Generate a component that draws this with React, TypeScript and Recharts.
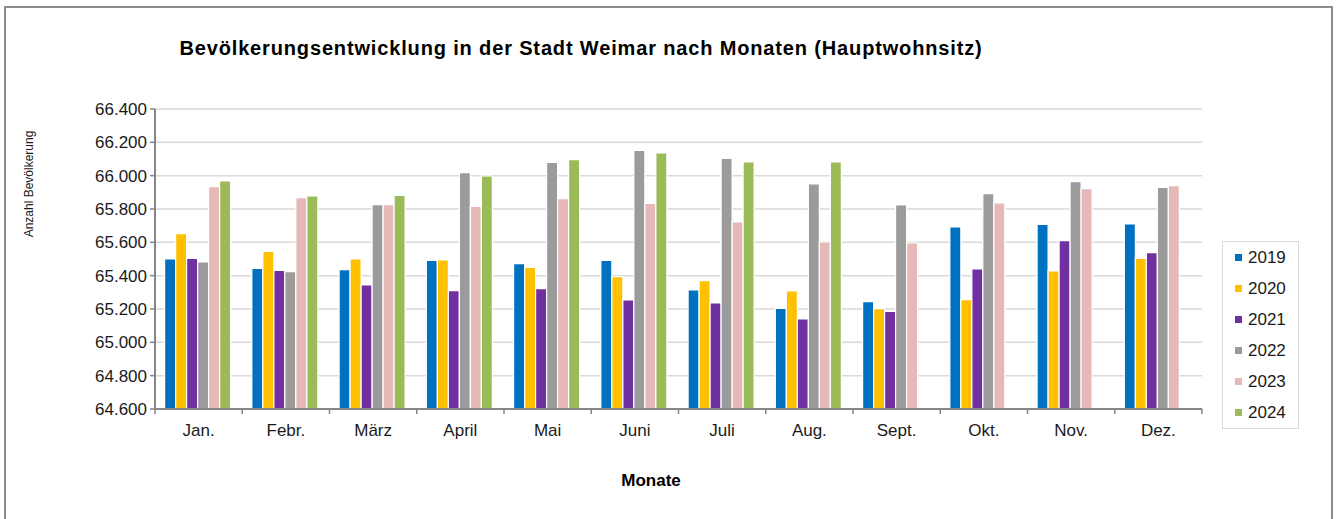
import React from "react";
import { BarChart, Bar, XAxis, YAxis, CartesianGrid } from "recharts";

const months = ["Jan.", "Febr.", "März", "April", "Mai", "Juni", "Juli", "Aug.", "Sept.", "Okt.", "Nov.", "Dez."];
const years = ["2019", "2020", "2021", "2022", "2023", "2024"];
const v2019 = [65500, 65444, 65436, 65492, 65472, 65492, 65314, 65204, 65244, 65692, 65708, 65710];
const v2020 = [65652, 65546, 65500, 65494, 65450, 65394, 65370, 65308, 65202, 65256, 65428, 65504];
const v2021 = [65504, 65432, 65344, 65310, 65322, 65254, 65236, 65140, 65186, 65440, 65610, 65538];
const v2022 = [65482, 65424, 65826, 66018, 66080, 66152, 66104, 65950, 65824, 65892, 65964, 65930];
const v2023 = [65934, 65868, 65826, 65816, 65862, 65834, 65722, 65602, 65596, 65836, 65922, 65940];
const v2024 = [65968, 65878, 65882, 65998, 66096, 66136, 66082, 66082, null, null, null, null];
const yTicks = [64600, 64800, 65000, 65200, 65400, 65600, 65800, 66000, 66200, 66400];
const colors = ["#0070C0", "#FFC000", "#7030A0", "#9B9B9B", "#E6B9B8", "#9BBB59"];

const seriesValues = [v2019, v2020, v2021, v2022, v2023, v2024];
const data = months.map((m, i) => {
  const row: Record<string, any> = { month: m };
  years.forEach((y, k) => {
    row[y] = seriesValues[k][i];
  });
  return row;
});

const W = 1336;
const H = 519;
const M = { top: 109, right: 134, left: 95, bottom: 80 };
const Y_W = 60;
const X_H = 30;
const plotW = W - M.left - M.right - Y_W;
const halfBand = plotW / months.length / 2;
const FONT = "'Liberation Sans', Arial, sans-serif";

const fmt = (v: number) => {
  const s = String(Math.round(v));
  return s.replace(/\B(?=(\d{3})+(?!\d))/g, ".");
};

const XTick = (props: any) => {
  const { x, y, payload, index } = props;
  return (
    <g>
      {index === 0 && <line x1={x - halfBand} x2={x - halfBand} y1={y} y2={y + 5} stroke="#868686" strokeWidth={1.5} />}
      <line x1={x + halfBand} x2={x + halfBand} y1={y} y2={y + 5} stroke="#868686" strokeWidth={1.5} />
      <text x={x} y={y + 27} textAnchor="middle" fontSize={17} fill="#1a1a1a" fontFamily={FONT}>
        {payload.value}
      </text>
    </g>
  );
};

const LegendBox = () => (
  <div
    style={{
      position: "absolute",
      left: 1222,
      top: 241,
      border: "1.5px solid #d9d9d9",
      width: 77,
      height: 188,
      boxSizing: "border-box",
      fontFamily: FONT,
      background: "#fff",
    }}
  >
    {years.map((y, k) => (
      <div key={y} style={{ display: "flex", alignItems: "center", height: 31, paddingLeft: 12 }}>
        <span style={{ width: 7, height: 7, background: colors[k], display: "inline-block", marginRight: 6 }} />
        <span style={{ fontSize: 17, color: "#1a1a1a" }}>{y}</span>
      </div>
    ))}
  </div>
);

export default function App() {
  return (
    <div style={{ position: "absolute", left: 0, top: 0, width: W, height: H, background: "#fff", fontFamily: FONT, overflow: "hidden" }}>
      <div
        style={{
          position: "absolute",
          left: 4,
          top: 6,
          width: 1329,
          height: 530,
          border: "2px solid #8c8c8c",
          boxSizing: "border-box",
        }}
      />
      <div
        style={{
          position: "absolute",
          left: 581,
          top: 37,
          transform: "translateX(-50%)",
          whiteSpace: "nowrap",
          fontWeight: "bold",
          fontSize: 20,
          letterSpacing: 0.85,
          color: "#000",
        }}
      >
        Bevölkerungsentwicklung in der Stadt Weimar nach Monaten (Hauptwohnsitz)
      </div>
      <div
        style={{
          position: "absolute",
          left: 29,
          top: 184,
          transform: "translate(-50%, -50%) rotate(-90deg)",
          fontSize: 12,
          whiteSpace: "nowrap",
          color: "#1a1a1a",
        }}
      >
        Anzahl Bevölkerung
      </div>
      <div
        style={{
          position: "absolute",
          left: 651,
          top: 471,
          transform: "translateX(-50%)",
          fontWeight: "bold",
          fontSize: 17,
          color: "#000",
        }}
      >
        Monate
      </div>
      <BarChart
        width={W}
        height={H}
        data={data}
        margin={M}
        barGap={0}
        barCategoryGap="11%"
        style={{ position: "absolute", left: 0, top: 0 }}
      >
        <CartesianGrid vertical={false} stroke="#d9d9d9" strokeWidth={1.5} />
        <XAxis
          dataKey="month"
          height={X_H}
          tick={<XTick />}
          tickLine={false}
          tickSize={0}
          tickMargin={0}
          axisLine={{ stroke: "#868686", strokeWidth: 2 }}
          interval={0}
        />
        <YAxis
          width={Y_W}
          domain={[64600, 66400]}
          ticks={yTicks}
          interval={0}
          allowDataOverflow
          tickFormatter={fmt}
          tick={{ fontSize: 17, fill: "#1a1a1a", fontFamily: FONT }}
          tickSize={5}
          tickMargin={3}
          tickLine={{ stroke: "#868686", strokeWidth: 1.5 }}
          axisLine={{ stroke: "#868686", strokeWidth: 2 }}
        />
        {years.map((y, k) => (
          <Bar key={y} dataKey={y} fill={colors[k]} stroke="#fff" strokeWidth={1.2} isAnimationActive={false} />
        ))}
      </BarChart>
      <LegendBox />
    </div>
  );
}
